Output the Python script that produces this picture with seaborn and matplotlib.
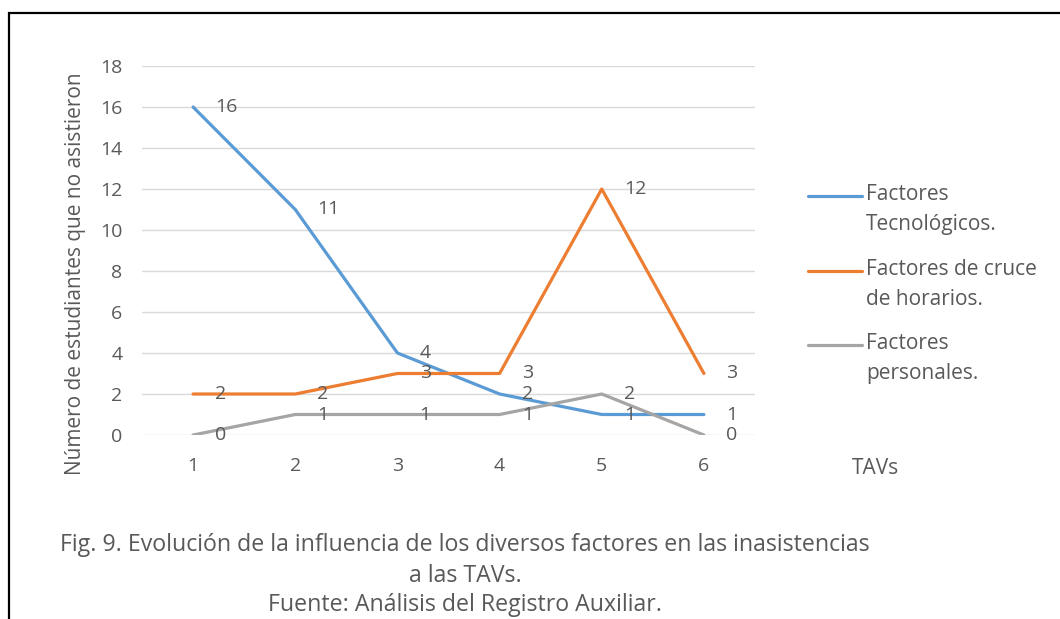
import pandas as pd
import matplotlib.pyplot as plt
import seaborn as sns
from matplotlib.lines import Line2D
from matplotlib.patches import Rectangle

TAVS = [1, 2, 3, 4, 5, 6]
SERIES = [
    'Factores\nTecnológicos.',
    'Factores de cruce\nde horarios.',
    'Factores\npersonales.',
]
TECNOLOGICOS = [16, 11, 4, 2, 1, 1]
CRUCE_HORARIOS = [2, 2, 3, 3, 12, 3]
PERSONALES = [0, 1, 1, 1, 2, 0]
COLORS = ['#5B9BD5', '#ED7D31', '#A5A5A5']
Y_TICKS = list(range(0, 19, 2))

CAPTION_LINES = [
    'Fig. 9. Evolución de la influencia de los diversos factores en las inasistencias',
    'a las TAVs.',
    'Fuente: Análisis del Registro Auxiliar.',
]

TEXT_GREY = '#595959'


def build_frame():
    rows = []
    for name, values in zip(SERIES, [TECNOLOGICOS, CRUCE_HORARIOS, PERSONALES]):
        for t, v in zip(TAVS, values):
            rows.append({'TAV': t, 'valor': v, 'serie': name})
    return pd.DataFrame(rows)


def main():
    df = build_frame()
    sns.set_theme(style='white')
    plt.rcParams['font.family'] = ['Open Sans', 'DejaVu Sans']

    W, H = 1060, 619
    fig = plt.figure(figsize=(W / 100, H / 100), dpi=100)
    ax = fig.add_axes([142 / W, 1 - 435 / H, (755 - 142) / W, (435 - 66) / H])

    palette = dict(zip(SERIES, COLORS))
    sns.lineplot(data=df, x='TAV', y='valor', hue='serie', palette=palette,
                 hue_order=SERIES, sort=False, linewidth=2.3, legend=False,
                 ax=ax, zorder=3)

    # data labels, right of each point
    for name in SERIES:
        sub = df[df['serie'] == name]
        for t, v in zip(sub['TAV'], sub['valor']):
            ax.annotate(str(v), (t, v), xytext=(16, 0), textcoords='offset points',
                        ha='left', va='center', fontsize=14, color=TEXT_GREY,
                        zorder=5)

    ax.set_xlim(0.5, 6.5)
    ax.set_ylim(0, 18)
    ax.set_xticks(TAVS)
    ax.set_yticks(Y_TICKS)
    ax.yaxis.grid(True, color='#D9D9D9', linewidth=1)
    ax.set_axisbelow(True)
    for s in ax.spines.values():
        s.set_visible(False)
    ax.tick_params(axis='both', length=0, labelsize=14, labelcolor=TEXT_GREY)
    ax.tick_params(axis='x', pad=16)
    ax.tick_params(axis='y', pad=14)
    ax.set_xlabel('')
    ax.set_ylabel('')

    fig.text(76 / W, 1 - 274 / H, 'Número de estudiantes que no asistieron',
             rotation=90, ha='center', va='center', fontsize=15, color=TEXT_GREY)
    fig.text(876 / W, 1 - 469 / H, 'TAVs', ha='center', va='center',
             fontsize=15, color=TEXT_GREY)

    # legend drawn by hand so the key sits on the first text line
    legend_y = [196, 271, 345]
    for name, color, y in zip(SERIES, COLORS, legend_y):
        fig.add_artist(Line2D([808 / W, 862 / W], [1 - y / H, 1 - y / H],
                              color=color, linewidth=2.3))
        fig.text(866 / W, 1 - (y - 12) / H, name, ha='left', va='top',
                 fontsize=15, color=TEXT_GREY, linespacing=1.55)

    # caption, one line at a time so the last line stays inside the image
    for line, base in zip(CAPTION_LINES, [551, 582, 611]):
        fig.text(465 / W, 1 - base / H, line, ha='center', va='baseline',
                 fontsize=16.7, color=TEXT_GREY)

    # outer frame
    fig.add_artist(Rectangle((9 / W, -0.05), 1.1, 1 - 13 / H + 0.05,
                             transform=fig.transFigure, fill=False,
                             edgecolor='black', linewidth=1.6))

    fig.savefig('out.png', dpi=100, facecolor='white')


if __name__ == '__main__':
    main()
